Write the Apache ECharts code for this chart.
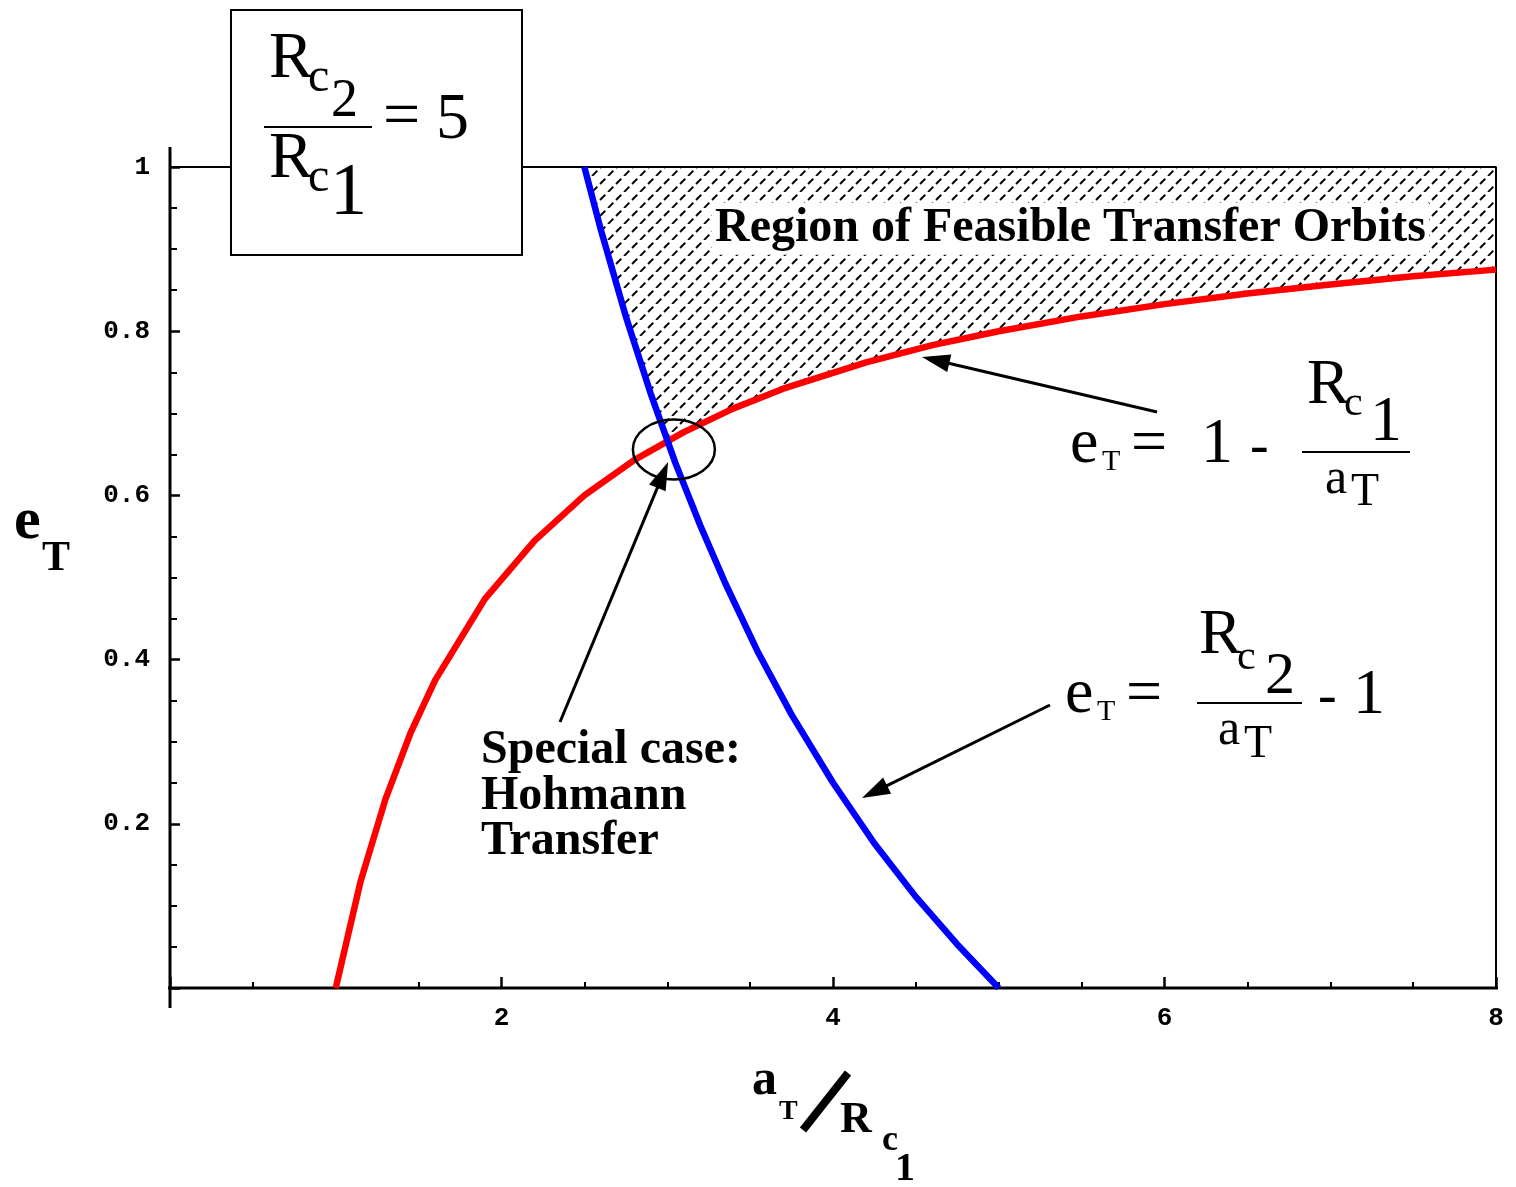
<!DOCTYPE html>
<html>
<head>
<meta charset="utf-8">
<script src="https://cdn.jsdelivr.net/npm/echarts@6/dist/echarts.min.js"></script>
<style>
  html, body { margin: 0; padding: 0; background: #fff; }
  #chart { width: 1516px; height: 1187px; }
</style>
</head>
<body>
<div id="chart"></div>
<script>
// Transfer-orbit semi-major axis (a_T / R_c1) and eccentricity samples.
// Lower bound: orbit perigee must reach the inner circle, e = 1 - Rc1/a
const redA = [1.0, 1.15, 1.3, 1.45, 1.6, 1.9, 2.2, 2.5, 2.8, 3.1, 3.4, 3.7, 4.2, 4.6, 5.0, 5.5, 6.0, 6.5, 7.0, 7.5, 8.0];
const redE = [0, 0.13, 0.23, 0.31, 0.375, 0.474, 0.545, 0.6, 0.643, 0.677, 0.706, 0.73, 0.762, 0.783, 0.8, 0.818, 0.833, 0.846, 0.857, 0.867, 0.875];
// Apogee must reach the outer circle, e = Rc2/a - 1
const blueA = [2.5, 2.6, 2.75, 2.9, 3.05, 3.2, 3.35, 3.55, 3.75, 4.0, 4.25, 4.5, 4.75, 5.0];
const blueE = [1.0, 0.923, 0.818, 0.724, 0.639, 0.563, 0.493, 0.408, 0.333, 0.25, 0.176, 0.111, 0.053, 0];
// Where both bounds meet: the Hohmann transfer
const hohmann = [3.0, 0.667];
// Axis ranges
const xRange = [0, 8];
const yRange = [0, 1];

// Pointer arrows, [tailX, tailY, tipX, tipY] in axis units
const pointers = [
  [5.955, 0.7016, 4.537, 0.7686],
  [5.309, 0.3447, 4.175, 0.2314],
  [2.353, 0.3240, 3.005, 0.6407]
];
const ringCenter = [3.04, 0.656];

// Diagonal dashed hatch tile
const HT = 16;
const tile = document.createElement('canvas');
tile.width = HT; tile.height = HT;
(function () {
  const g = tile.getContext('2d');
  const d = HT * Math.SQRT2 / 2;
  g.strokeStyle = '#000';
  g.lineWidth = 1.9;
  g.setLineDash([d * 0.66, d * 0.34]);
  [[0, HT, HT, 0], [-HT, HT, 0, 0], [HT, HT, 2 * HT, 0]].forEach(function (s) {
    g.beginPath(); g.moveTo(s[0], s[1]); g.lineTo(s[2], s[3]); g.stroke();
  });
})();
const hatch = { image: tile, repeat: 'repeat' };

const SERIF = '"Liberation Serif", "Times New Roman", serif';
function txt(s, left, baseline, size, bold, extra) {
  return {
    type: 'text', x: left, y: baseline - 0.3375 * size, z: 100,
    style: Object.assign({
      text: s,
      font: (bold ? 'bold ' : '') + size + 'px ' + SERIF,
      fill: '#000', align: 'left', verticalAlign: 'middle'
    }, extra || {})
  };
}
function bar(x1, y, x2, w) {
  return { type: 'line', z: 100, shape: { x1: x1, y1: y, x2: x2, y2: y }, style: { stroke: '#000', lineWidth: w || 2 } };
}

const chart = echarts.init(document.getElementById('chart'), null, { renderer: 'canvas' });

const tickFont = { fontFamily: '"Liberation Mono", "Courier New", monospace', fontWeight: 'bold', fontSize: 26, color: '#000' };

const option = {
  animation: false,
  backgroundColor: '#fff',
  grid: { left: 170, right: 20, top: 167, bottom: 199, containLabel: false },
  xAxis: {
    type: 'value', min: xRange[0], max: xRange[1], interval: 2,
    axisLine: { show: false },
    axisTick: { show: true, inside: true, length: 11, lineStyle: { color: '#000', width: 2.5 } },
    minorTick: { show: true, splitNumber: 4, length: 6, lineStyle: { color: '#000', width: 2 } },
    axisLabel: Object.assign({ showMinLabel: false, margin: 17 }, tickFont),
    splitLine: { show: false }
  },
  yAxis: {
    type: 'value', min: yRange[0], max: yRange[1], interval: 0.2,
    axisLine: { show: false },
    axisTick: { show: true, inside: true, length: 10, lineStyle: { color: '#000', width: 2.5 } },
    minorTick: { show: true, splitNumber: 4, length: 7, lineStyle: { color: '#000', width: 2 } },
    axisLabel: Object.assign({ showMinLabel: false, margin: 20 }, tickFont),
    splitLine: { show: false }
  },
  series: [
    {
      // feasible region between the two bounds
      type: 'custom', z: 1, silent: true,
      data: [[0, 0]],
      renderItem: function (params, api) {
        const pts = [[blueA[0], yRange[1]], [xRange[1], yRange[1]]];
        for (let i = redA.length - 1; i >= 0; i--) if (redA[i] > hohmann[0]) pts.push([redA[i], redE[i]]);
        pts.push(hohmann);
        for (let i = blueA.length - 1; i >= 0; i--) if (blueA[i] < hohmann[0]) pts.push([blueA[i], blueE[i]]);
        return { type: 'polygon', shape: { points: pts.map(function (p) { return api.coord(p); }) }, style: { fill: hatch, stroke: null } };
      }
    },
    {
      // plot frame: top and right edges
      type: 'line', z: 2, silent: true, showSymbol: false,
      data: [[xRange[0], yRange[1]], [xRange[1], yRange[1]], [xRange[1], yRange[0]]],
      lineStyle: { color: '#000', width: 2 }
    },
    {
      // horizontal axis, running past both ends
      type: 'line', z: 2, silent: true, showSymbol: false, clip: false,
      data: [[-0.2112, 0], [8.1207, 0]],
      lineStyle: { color: '#000', width: 3 }
    },
    {
      // vertical axis
      type: 'line', z: 2, silent: true, showSymbol: false, clip: false,
      data: [[0, -0.0244], [0, 1.0244]],
      lineStyle: { color: '#000', width: 3 }
    },
    {
      type: 'line', z: 3, silent: true, showSymbol: false,
      data: redA.map(function (a, i) { return [a, redE[i]]; }),
      lineStyle: { color: '#ff0000', width: 6.5, join: 'round' }
    },
    {
      type: 'line', z: 3, silent: true, showSymbol: false,
      data: blueA.map(function (a, i) { return [a, blueE[i]]; }),
      lineStyle: { color: '#0000ff', width: 6.5, join: 'round' }
    },
    {
      // ring around the Hohmann point
      type: 'custom', z: 4, silent: true,
      data: [ringCenter],
      renderItem: function (params, api) {
        const c = api.coord([api.value(0), api.value(1)]);
        return { type: 'ellipse', shape: { cx: c[0], cy: c[1], rx: 41, ry: 30 }, style: { fill: 'none', stroke: '#000', lineWidth: 2.5 } };
      }
    },
    {
      // pointer arrows
      type: 'custom', z: 4, silent: true,
      encode: { x: [0, 2], y: [1, 3] },
      data: pointers,
      renderItem: function (params, api) {
        const p0 = api.coord([api.value(0), api.value(1)]);
        const p1 = api.coord([api.value(2), api.value(3)]);
        const dx = p1[0] - p0[0], dy = p1[1] - p0[1];
        const len = Math.sqrt(dx * dx + dy * dy);
        const ux = dx / len, uy = dy / len;
        const hl = 28, hw = 9;
        const bx = p1[0] - ux * hl, by = p1[1] - uy * hl;
        return {
          type: 'group',
          children: [
            { type: 'line', shape: { x1: p0[0], y1: p0[1], x2: bx + ux * 4, y2: by + uy * 4 }, style: { stroke: '#000', lineWidth: 3 } },
            { type: 'polygon', shape: { points: [p1, [bx - uy * hw, by + ux * hw], [bx + uy * hw, by - ux * hw]] }, style: { fill: '#000', stroke: null } }
          ]
        };
      }
    }
  ],
  graphic: [
    // ratio box
    { type: 'rect', z: 99, shape: { x: 231, y: 10, width: 291, height: 245 }, style: { fill: '#fff', stroke: '#000', lineWidth: 2 } },
    txt('R', 269, 82, 66), txt('c', 308, 95, 48), txt('2', 331, 120, 54),
    bar(264, 127, 372, 2),
    txt('R', 269, 182, 66), txt('c', 308, 195, 48), txt('1', 330, 220, 74),
    txt('=', 383, 141, 66), txt('5', 436, 143, 66),

    // axis titles
    txt('e', 14, 543, 60, true), txt('T', 42, 573, 42, true),
    txt('a', 752, 1098, 50, true), txt('T', 779, 1121, 28, true),
    { type: 'line', z: 100, shape: { x1: 803, y1: 1130, x2: 848, y2: 1073 }, style: { stroke: '#000', lineWidth: 8 } },
    txt('R', 840, 1135, 44, true), txt('c', 882, 1153, 36, true), txt('1', 895, 1183, 40, true),

    // region label
    txt('Region of Feasible Transfer Orbits', 712, 245, 48, true, { backgroundColor: '#fff', padding: [0, 3, 4, 3] }),

    // Hohmann note
    txt('Special case:', 481, 767, 48, true),
    txt('Hohmann', 481, 813, 48, true),
    txt('Transfer', 481, 858, 48, true),

    // e_T = 1 - Rc1 / a_T
    txt('e', 1070, 467, 64), txt('T', 1102, 472, 30), txt('=', 1131, 467, 64),
    txt('1', 1201, 467, 64), txt('-', 1250, 467, 56),
    txt('R', 1307, 408, 64), txt('c', 1344, 418, 42), txt('1', 1370, 445, 64),
    bar(1302, 452, 1410, 2),
    txt('a', 1325, 497, 50), txt('T', 1351, 508, 46),

    // e_T = Rc2 / a_T - 1
    txt('e', 1065, 717, 64), txt('T', 1097, 722, 30), txt('=', 1126, 717, 64),
    txt('R', 1199, 658, 64), txt('c', 1237, 672, 42), txt('2', 1265, 697, 60),
    bar(1197, 703, 1302, 2),
    txt('a', 1218, 748, 50), txt('T', 1244, 760, 46),
    txt('-', 1318, 717, 56), txt('1', 1353, 718, 64)
  ]
};

chart.setOption(option);
</script>
</body>
</html>
